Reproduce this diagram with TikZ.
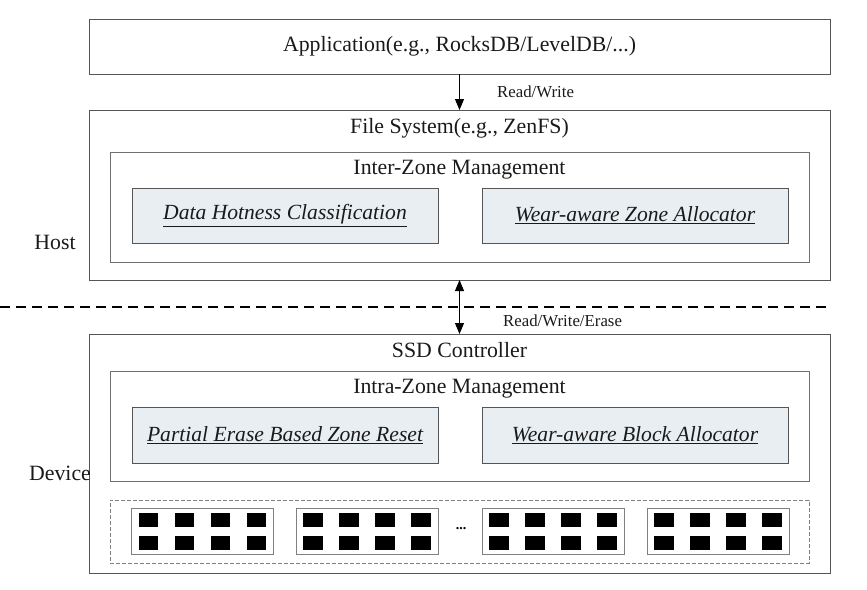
\documentclass[tikz,border=0pt]{standalone}
\usepackage{fontspec}
\setmainfont{Liberation Serif}
\usetikzlibrary{arrows.meta}
\definecolor{outerc}{HTML}{555555}
\definecolor{midc}{HTML}{707070}
\definecolor{grpc}{HTML}{808080}
\definecolor{innerfill}{HTML}{E9EEF2}
\definecolor{txtc}{HTML}{1A1A1A}
\begin{document}
\begin{tikzpicture}[x=1pt,y=-1pt,
  box/.style={draw=outerc, line width=1pt, inner sep=0pt, outer sep=0pt, anchor=north west},
  midbox/.style={draw=midc, line width=1pt, inner sep=0pt, outer sep=0pt, anchor=north west},
  modbox/.style={draw=outerc, fill=innerfill, line width=1pt, inner sep=0pt, outer sep=0pt, anchor=north west,
     text=txtc, font=\fontsize{21.6}{24}\selectfont\itshape},
  title/.style={inner sep=0pt, text=txtc, font=\fontsize{21.8}{24}\selectfont},
  lbl/.style={inner sep=0pt, anchor=west, text=txtc, font=\fontsize{16.8}{19}\selectfont},
  grp/.style={draw=grpc, line width=0.9pt, inner sep=0pt, outer sep=0pt, anchor=north west,
     minimum width=142pt, minimum height=46pt},
  chip/.style={fill=black, inner sep=0pt, outer sep=0pt, anchor=north west,
     minimum width=19.5pt, minimum height=14pt},
  arr/.style={line width=1pt, -{Triangle[length=11pt,width=9pt]}},
  darr/.style={line width=1pt, {Triangle[length=11pt,width=9pt]}-{Triangle[length=11pt,width=9pt]}}
]
\useasboundingbox (0,0) rectangle (867,589);

% Application
\node[box, minimum width=741pt, minimum height=55pt] (app) at (89,19) {};
\node[title] (apptxt) at (app.center) {Application(e.g., RocksDB/LevelDB/...)};

% File system
\node[box, minimum width=741pt, minimum height=170pt] (fs) at (89,110) {};
\node[title] (fstxt) at (459.5,128) {File System(e.g., ZenFS)};
\node[midbox, minimum width=699pt, minimum height=110pt] (inter) at (110,152) {};
\node[title] (intertxt) at (459.5,170) {Inter-Zone Management};
\node[modbox, minimum width=306pt, minimum height=55pt] (dhc) at (132,188) {\underline{Data Hotness Classification}};
\node[modbox, minimum width=306pt, minimum height=55pt] (wza) at (482,188) {\underline{Wear-aware Zone Allocator}};

% Host label
\node[title] (host) at (55,242) {Host};

% separator
\coordinate (sepL) at (0,307);
\coordinate (sepR) at (830,307);
\draw[line width=1.3pt, dash pattern=on 10pt off 6pt] (sepL) -- (sepR);

% SSD
\node[box, minimum width=741pt, minimum height=239pt] (ssd) at (89,334) {};
\node[title] (ssdtxt) at (459.5,350) {SSD Controller};
\node[midbox, minimum width=699pt, minimum height=110pt] (intra) at (110,371) {};
\node[title] (intratxt) at (459.5,389) {Intra-Zone Management};
\node[modbox, minimum width=306pt, minimum height=56pt] (pez) at (132,407) {\underline{Partial Erase Based Zone Reset}};
\node[modbox, minimum width=306pt, minimum height=56pt] (wba) at (482,407) {\underline{Wear-aware Block Allocator}};

% Device label
\node[title] (dev) at (60,473) {Device};

% Flash area
\node[draw=grpc, line width=0.8pt, dash pattern=on 4pt off 2pt, inner sep=0pt, anchor=north west,
      minimum width=699pt, minimum height=63pt] (flash) at (110,500) {};
\foreach \g/\gx in {1/131.5, 2/296, 3/482, 4/647} {
  \node[grp] (g\g) at (\gx,508) {};
  \foreach \c in {0,1,2,3} {
    \node[chip] (c\g-\c-a) at ({\gx+7.25+36*\c},512.7) {};
    \node[chip] (c\g-\c-b) at ({\gx+7.25+36*\c},536) {};
  }
}
\node[inner sep=0pt, font=\fontsize{14}{16}\selectfont\bfseries] (dots) at (461,529) {...};

% connectors
\draw[arr] (app.south) -- (fs.north);
\node[lbl] (rw) at (497,92) {Read/Write};
\draw[darr] (fs.south) -- (ssd.north);
\node[lbl] (rwe) at (503,321) {Read/Write/Erase};
\end{tikzpicture}
\end{document}
